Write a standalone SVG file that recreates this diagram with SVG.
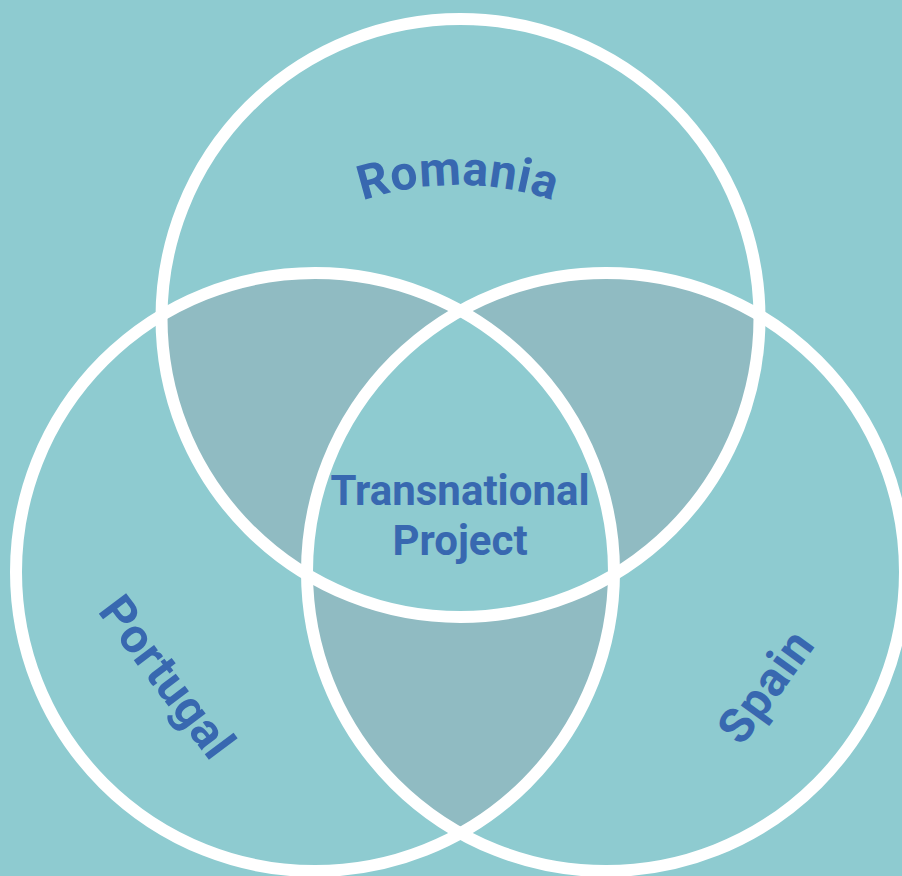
<svg xmlns="http://www.w3.org/2000/svg" width="902" height="876" viewBox="0 0 902 876">
<style>
.lbl{font-family:Roboto,"Liberation Sans",sans-serif;font-weight:bold;fill:#3868b0}
.ring{fill:none;stroke:#ffffff;stroke-width:12}
</style>
<defs>
<clipPath id="cT"><circle cx="460.5" cy="318" r="299"/></clipPath>
<clipPath id="cL"><circle cx="315" cy="572" r="299"/></clipPath>
<clipPath id="cR"><circle cx="606" cy="572" r="299"/></clipPath>
<path id="arcRomania" d="M158,485 A300,300 0 0 1 758,485"/>
</defs>
<rect width="902" height="876" fill="#8ecbd0"/>
<g id="overlaps">
<circle cx="315" cy="572" r="299" fill="#90bbc2" clip-path="url(#cT)"/>
<circle cx="606" cy="572" r="299" fill="#90bbc2" clip-path="url(#cT)"/>
<circle cx="606" cy="572" r="299" fill="#90bbc2" clip-path="url(#cL)"/>
<g clip-path="url(#cT)"><circle cx="606" cy="572" r="299" fill="#8ecbd0" clip-path="url(#cL)"/></g>
</g>
<g id="romania">
<circle class="ring" cx="460.5" cy="318" r="299"/>
</g>
<g id="portugal">
<circle class="ring" cx="315" cy="572" r="299"/>
</g>
<g id="spain">
<circle class="ring" cx="606" cy="572" r="299"/>
</g>
<g id="labels">
<text class="lbl" font-size="48" letter-spacing="0.5" text-anchor="middle"><textPath href="#arcRomania" startOffset="50%">Romania</textPath></text>
<text class="lbl" font-size="48" letter-spacing="0.5" text-anchor="middle" transform="translate(154,687) rotate(53)">Portugal</text>
<text class="lbl" font-size="48" letter-spacing="1" text-anchor="middle" transform="translate(779,696) rotate(-54)">Spain</text>
<text class="lbl" font-size="42" text-anchor="middle" x="460" y="505">Transnational</text>
<text class="lbl" font-size="42" text-anchor="middle" x="460" y="555">Project</text>
</g>
</svg>
